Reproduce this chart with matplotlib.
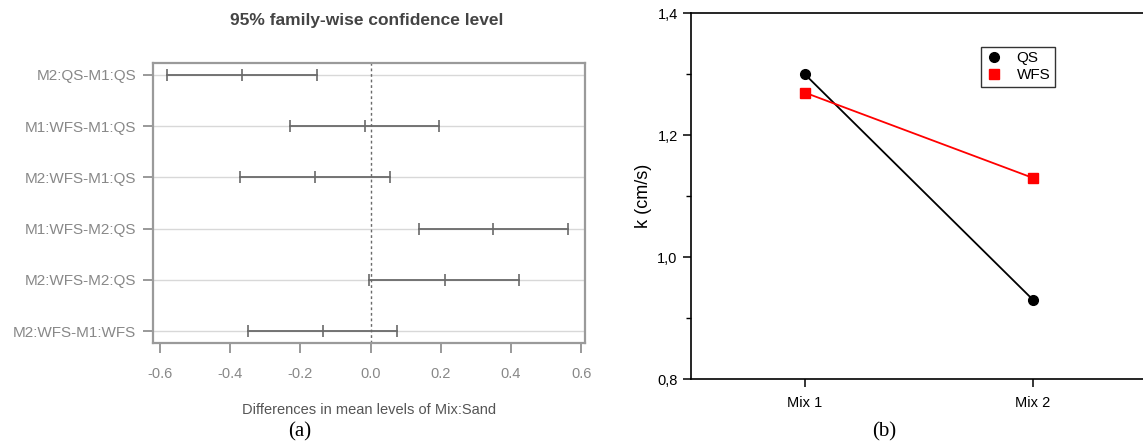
import numpy as np
import matplotlib
matplotlib.use("Agg")
import matplotlib.pyplot as plt
from matplotlib.ticker import FuncFormatter, MultipleLocator

plt.rcParams['font.family'] = ['Liberation Sans', 'DejaVu Sans']

# (a) Tukey HSD intervals
comparisons = ["M2:QS-M1:QS", "M1:WFS-M1:QS", "M2:WFS-M1:QS",
               "M1:WFS-M2:QS", "M2:WFS-M2:QS", "M2:WFS-M1:WFS"]
diff = [-0.366, -0.017, -0.159, 0.349, 0.212, -0.137]
lwr = [-0.580, -0.230, -0.371, 0.137, -0.005, -0.349]
upr = [-0.153, 0.195, 0.054, 0.562, 0.424, 0.076]
xticks_a = [-0.6, -0.4, -0.2, 0.0, 0.2, 0.4, 0.6]

# (b) interaction plot
mixes = ["Mix 1", "Mix 2"]
k_qs = [1.30, 0.93]
k_wfs = [1.27, 1.13]

fig = plt.figure(figsize=(11.43, 4.48), dpi=100)

# ---- panel (a)
gray = "#6a6a6a"
ax1 = fig.add_axes([0.1339, 0.2344, 0.3779, 0.625])
ypos = np.arange(1, len(comparisons) + 1)
for y, lo, m, hi in zip(ypos, lwr, diff, upr):
    ax1.axhline(y, color="#d8d8d8", lw=1.0, zorder=1)
    ax1.plot([lo, hi], [y, y], color=gray, lw=1.3, zorder=2)
    ax1.plot([lo, m, hi], [y, y, y], ls="none", marker="|", ms=8,
             mew=1.2, color=gray, zorder=3)
ax1.axvline(0, color=gray, ls=(0, (2, 2)), lw=1.0, zorder=2)
ax1.set_xlim(-0.62, 0.611)
ax1.set_ylim(6.23, 0.77)
ax1.set_yticks(ypos)
ax1.set_yticklabels(comparisons, fontsize=11, color="#555555")
ax1.set_xticks(xticks_a)
ax1.set_xticklabels(["%.1f" % v for v in xticks_a], fontsize=10.5,
                    color="#777777")
ax1.tick_params(colors="#888888", length=7, width=1.2)
ax1.tick_params(axis="y", pad=5)
ax1.tick_params(axis="x", pad=10)
for s in ax1.spines.values():
    s.set_color("#9a9a9a")
    s.set_linewidth(1.6)
ax1.set_xlabel("Differences in mean levels of Mix:Sand", fontsize=10.5,
               color="#555555", labelpad=16)
fig.text(0.321, 0.955, "95% family-wise confidence level", ha="center",
         va="center", fontsize=12.5, fontweight="bold", color="#444444")
fig.text(0.2625, 0.036, "(a)", ha="center", va="center", fontsize=15,
         family="Liberation Serif")

# ---- panel (b)
ax2 = fig.add_axes([0.6045, 0.154, 0.399, 0.816])
xs = np.arange(1, len(mixes) + 1)
ax2.plot(xs, k_qs, color="black", lw=1.3, marker="o", ms=7, label="QS")
ax2.plot(xs, k_wfs, color="red", lw=1.3, marker="s", ms=6.5, label="WFS")
ax2.set_xlim(0.5, 2.5)
ax2.set_ylim(0.8, 1.4)
ax2.set_xticks(xs)
ax2.set_xticklabels(mixes, fontsize=10.5)
ax2.yaxis.set_major_locator(MultipleLocator(0.2))
ax2.yaxis.set_minor_locator(MultipleLocator(0.1))
ax2.yaxis.set_major_formatter(FuncFormatter(lambda v, p: ("%.1f" % v).replace(".", ",")))
ax2.tick_params(axis="y", which="major", labelsize=10.5, length=6, width=1.1,
                direction="out", right=True, labelright=False)
ax2.tick_params(axis="y", which="minor", length=3.5, width=1.0,
                direction="out")
ax2.tick_params(axis="x", length=6, width=1.1, pad=6)
for s in ax2.spines.values():
    s.set_linewidth(1.2)
ax2.set_ylabel("k (cm/s)", fontsize=13, labelpad=4)
ax2.legend(loc="upper left", bbox_to_anchor=(0.62, 0.93), fontsize=11,
           frameon=True, fancybox=False, edgecolor="#333333", framealpha=1,
           handlelength=1.0, handletextpad=1.0, borderpad=0.3,
           labelspacing=0.2)
for line in ax2.get_legend().get_lines():
    line.set_linestyle("none")
fig.text(0.774, 0.036, "(b)", ha="center", va="center", fontsize=15,
         family="Liberation Serif")

fig.savefig("out.png", dpi=100)
